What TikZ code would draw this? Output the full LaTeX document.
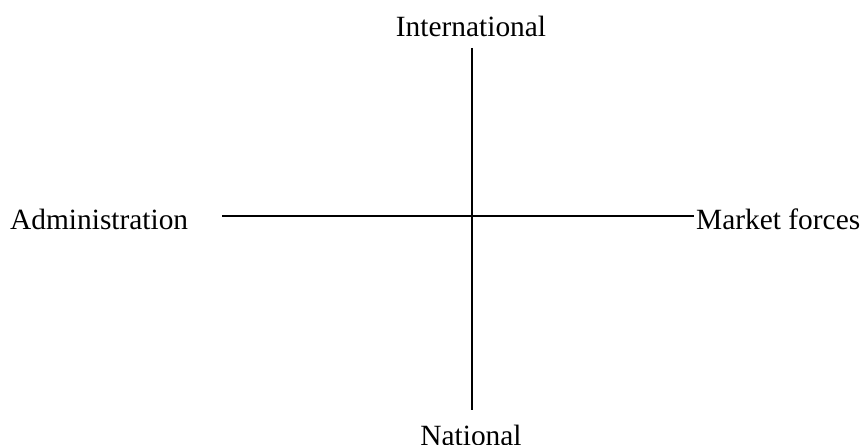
\documentclass[tikz,border=0pt]{standalone}
\usepackage{fontspec}
\setmainfont{Liberation Serif}
\usepackage{tikz}
\usetikzlibrary{positioning}

\begin{document}
\begin{tikzpicture}[
  x=1bp, y=-1bp,
  axislabel/.style={font=\fontsize{29.5}{34}\selectfont, inner sep=0pt},
  axis/.style={line width=1.6bp, black}
]
\useasboundingbox (0,0) rectangle (862,445);

% === Axis labels ===
\node[axislabel, anchor=base]      (intl)  at (471,37)  {International};
\node[axislabel, anchor=base]      (natl)  at (471,445) {National};
\node[axislabel, anchor=base west] (admin) at (10,230)  {Administration};
\node[axislabel, anchor=base west] (mkt)   at (696,230) {Market forces};

% === Axis ends ===
\coordinate (top)    at (472,48);
\coordinate (bottom) at (472,410);
\coordinate (left)   at (222,216);
\coordinate (right)  at (694,216);

% === Axes ===
\draw[axis] (top) -- (bottom);
\draw[axis] (left) -- (right);

\end{tikzpicture}
\end{document}
